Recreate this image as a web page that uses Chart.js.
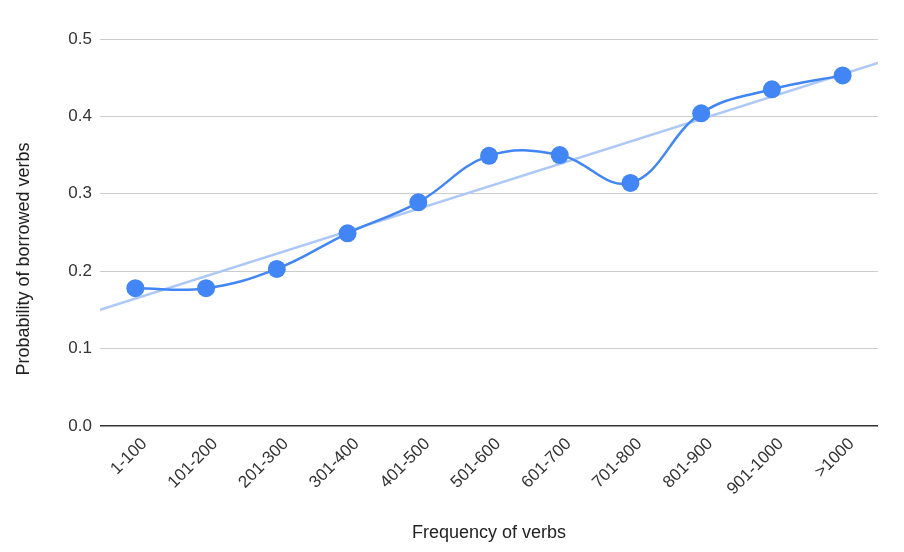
<!DOCTYPE html>
<html>
<head>
<meta charset="utf-8">
<script src="https://cdn.jsdelivr.net/npm/chart.js@4"></script>
<style>
  html, body { margin: 0; padding: 0; background: #fff; }
  #wrap { width: 904px; height: 552px; }
</style>
</head>
<body>
<div id="wrap"><canvas id="chart" width="904" height="552"></canvas></div>
<script>
// Data
const categories = ['1-100', '101-200', '201-300', '301-400', '401-500', '501-600', '601-700', '701-800', '801-900', '901-1000', '>1000'];
const probability = [0.178, 0.178, 0.203, 0.249, 0.289, 0.349, 0.350, 0.314, 0.404, 0.435, 0.453];
// trendline values at the left and right edges of the plot
const trendEnds = [0.150, 0.469];
const yTicks = [0, 0.1, 0.2, 0.3, 0.4, 0.5];

const FONT = "'Liberation Sans', Arial, sans-serif";

// axis titles drawn at fixed spots, like the reference
const axisTitles = {
    id: 'axisTitles',
    afterDraw(chart) {
        const c = chart.ctx;
        const area = chart.chartArea;
        c.save();
        c.fillStyle = '#222';
        c.font = '18px ' + FONT;
        c.textAlign = 'center';
        c.textBaseline = 'middle';
        c.fillText('Frequency of verbs', (area.left + area.right) / 2, 533);
        c.translate(24, 259);
        c.rotate(-Math.PI / 2);
        c.fillText('Probability of borrowed verbs', 0, 0);
        c.restore();
    }
};

const ctx = document.getElementById('chart').getContext('2d');
new Chart(ctx, {
    type: 'line',
    data: {
        datasets: [{
            label: 'Trend',
            data: [{ x: -0.5, y: trendEnds[0] }, { x: categories.length - 0.5, y: trendEnds[1] }],
            borderColor: '#adc8f7',
            borderWidth: 2.5,
            pointRadius: 0,
            tension: 0,
            order: 2
        }, {
            label: 'Probability',
            data: probability.map((v, i) => ({ x: i, y: v })),
            borderColor: '#4285f4',
            backgroundColor: '#4285f4',
            borderWidth: 2.5,
            pointRadius: 9,
            pointHoverRadius: 9,
            pointBorderWidth: 0,
            tension: 0.4,
            order: 1
        }]
    },
    options: {
        responsive: false,
        animation: false,
        layout: { padding: { top: 39, right: 26, left: 0, bottom: 0 } },
        plugins: { legend: { display: false }, tooltip: { enabled: false } },
        scales: {
            x: {
                type: 'linear',
                min: -0.5,
                max: categories.length - 0.5,
                afterBuildTicks: axis => { axis.ticks = categories.map((_, i) => ({ value: i })); },
                afterFit: axis => { axis.height = 126; },
                grid: { display: false, drawTicks: false },
                border: { display: false },
                ticks: {
                    autoSkip: false,
                    minRotation: 45,
                    maxRotation: 45,
                    padding: 8,
                    labelOffset: 9,
                    color: '#333',
                    font: { family: FONT, size: 17 },
                    callback: v => categories[v]
                }
            },
            y: {
                min: 0,
                max: 0.5,
                afterBuildTicks: axis => { axis.ticks = yTicks.map(v => ({ value: v })); },
                afterFit: axis => { axis.width = 100; },
                grid: {
                    drawTicks: false,
                    color: ctx => ctx.tick.value === 0 ? '#333' : '#cccccc',
                    lineWidth: ctx => ctx.tick.value === 0 ? 1.5 : 1
                },
                border: { display: false },
                ticks: {
                    padding: 8,
                    color: '#333',
                    font: { family: FONT, size: 17 },
                    callback: v => v.toFixed(1)
                }
            }
        }
    },
    plugins: [axisTitles]
});
</script>
</body>
</html>
